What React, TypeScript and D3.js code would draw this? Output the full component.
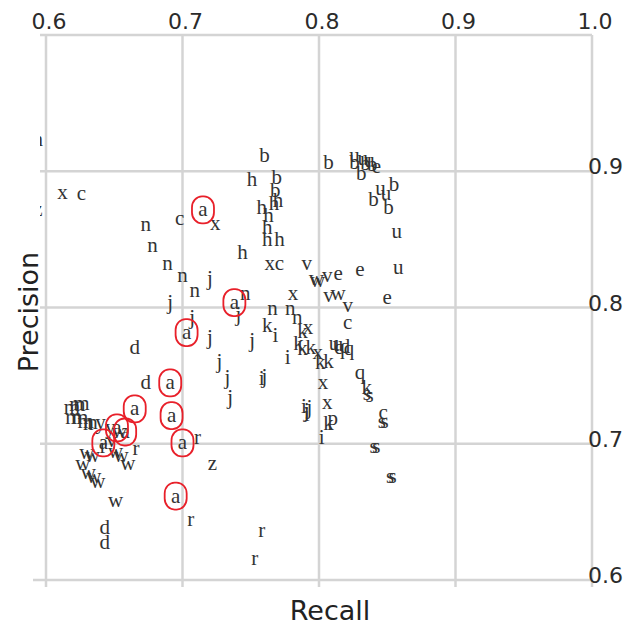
import React from "react";
import * as d3 from "d3";

// ---- data ----
const labels: string[] = [
  "n","z","x","c","b","h","b","b","h","h","h","h","h","h","h","h","x","c","v","x","c","a","b",
  "u","b","u","b","u","b","b","e",
  "u","b","b","u","b","u","u",
  "w","w","v","e","e","x","v","w","v","e",
  "n","n","n","k","i","c","x","k","k","k","k","x","k","k","i","u","q","d","q","u",
  "j","i","x","q","k","s","s","x","i","j","i","j","p","k","i","c","s","s","s","s","s","s",
  "n","n","n","n","j","n","j","a","n","j","j","a","j","j","d","j","j","j","d","a","a","a","a","r","z","a","r","r","r","d","d","w",
  "m","m","m","m","m","m","n","n","y","y","w","a","a","a","r","r","w","w","w","w","w","w","w","w","w","v"
];
const recallValues: number[] = [
  0.594,0.594,0.612,0.626,0.760,0.751,0.769,0.768,0.770,0.767,0.758,0.763,0.762,0.762,0.771,0.744,0.764,0.771,0.791,0.724,0.698,0.715,0.807,
  0.826,0.826,0.832,0.834,0.837,0.839,0.831,0.842,
  0.845,0.855,0.840,0.849,0.851,0.857,0.858,
  0.798,0.799,0.806,0.814,0.830,0.781,0.807,0.814,0.821,0.850,
  0.766,0.779,0.784,0.762,0.768,0.821,0.792,0.788,0.785,0.788,0.794,0.799,0.801,0.807,0.777,0.811,0.815,0.819,0.822,0.814,
  0.760,0.758,0.803,0.830,0.835,0.835,0.837,0.806,0.789,0.791,0.791,0.793,0.810,0.807,0.802,0.847,0.846,0.848,0.840,0.842,0.852,0.854,
  0.673,0.678,0.689,0.700,0.720,0.709,0.691,0.738,0.746,0.741,0.707,0.703,0.720,0.751,0.665,0.727,0.733,0.735,0.673,0.691,0.665,0.692,0.700,0.711,0.722,0.695,0.706,0.758,0.753,0.643,0.643,0.651,
  0.619,0.623,0.626,0.620,0.625,0.629,0.631,0.634,0.640,0.647,0.654,0.652,0.658,0.642,0.642,0.666,0.630,0.634,0.651,0.655,0.660,0.627,0.631,0.635,0.638,0.648
];
const precisionValues: number[] = [
  0.924,0.872,0.885,0.884,0.912,0.894,0.896,0.886,0.879,0.877,0.874,0.868,0.859,0.850,0.850,0.841,0.833,0.833,0.833,0.862,0.866,0.872,0.907,
  0.912,0.907,0.910,0.906,0.908,0.905,0.899,0.904,
  0.888,0.891,0.880,0.884,0.874,0.856,0.830,
  0.822,0.820,0.824,0.825,0.828,0.811,0.809,0.811,0.802,0.808,
  0.800,0.800,0.793,0.787,0.780,0.789,0.786,0.783,0.774,0.770,0.771,0.767,0.760,0.761,0.764,0.774,0.771,0.772,0.770,0.773,
  0.750,0.748,0.745,0.753,0.742,0.737,0.736,0.731,0.728,0.725,0.722,0.727,0.719,0.715,0.705,0.723,0.717,0.717,0.698,0.698,0.676,0.676,
  0.861,0.846,0.833,0.824,0.822,0.813,0.804,0.804,0.811,0.795,0.793,0.782,0.778,0.776,0.771,0.761,0.749,0.734,0.745,0.745,0.726,0.721,0.701,0.705,0.686,0.662,0.645,0.637,0.616,0.639,0.628,0.659,
  0.727,0.729,0.730,0.720,0.720,0.717,0.715,0.716,0.716,0.712,0.709,0.712,0.709,0.701,0.698,0.697,0.694,0.692,0.695,0.692,0.686,0.686,0.679,0.676,0.673,0.703
];
const highlightLabel = "a";
const xTicks: number[] = [0.6, 0.7, 0.8, 0.9, 1.0];
const yTicks: number[] = [0.6, 0.7, 0.8, 0.9, 1.0];
const xTitle = "Recall";
const yTitle = "Precision";

const W = 639;
const H = 627;
const left = 46, right = 592, top = 35, bottom = 580;

export default function App() {
  const x = d3.scaleLinear().domain([0.6, 1.0]).range([left, right]);
  const y = d3.scaleLinear().domain([0.6, 1.0]).range([bottom, top]);
  const fmt = d3.format(".1f");
  const gridColor = "#d4d4d4";
  const tickFont = "'DejaVu Sans', sans-serif";
  const points = labels.map((l, i) => ({ l, r: recallValues[i], p: precisionValues[i] }));

  return (
    <svg width={W} height={H} style={{ position: "absolute", left: 0, top: 0, background: "#fff" }}>
      <defs>
        <clipPath id="plotclip">
          <rect x={40} y={28} width={560} height={565} />
        </clipPath>
      </defs>
      {/* grid */}
      {xTicks.map((t) => (
        <line key={"vx" + t} x1={x(t)} x2={x(t)} y1={top} y2={bottom + 7} stroke={gridColor} strokeWidth={2.5} />
      ))}
      {yTicks.map((t) => (
        <line key={"hy" + t} x1={t === 0.6 ? 33 : 40} x2={right} y1={y(t)} y2={y(t)} stroke={gridColor} strokeWidth={2.5} />
      ))}
      {/* top tick labels */}
      {xTicks.map((t) => (
        <text key={"tx" + t} x={x(t) + 3} y={29} textAnchor="middle" fontFamily={tickFont} fontSize={22} fill="#2b2b2b">
          {fmt(t)}
        </text>
      ))}
      {/* right tick labels */}
      {yTicks.filter((t) => t < 1.0).map((t) => (
        <text key={"ty" + t} x={588} y={y(t) + 3} textAnchor="start" fontFamily={tickFont} fontSize={22} fill="#2b2b2b">
          {fmt(t)}
        </text>
      ))}
      {/* titles */}
      <text x={330} y={620} textAnchor="middle" fontFamily={tickFont} fontSize={27} fill="#222">
        {xTitle}
      </text>
      <text transform={`translate(38,${312}) rotate(-90)`} textAnchor="middle" fontFamily={tickFont} fontSize={27} fill="#222">
        {yTitle}
      </text>
      {/* marks */}
      <g clipPath="url(#plotclip)">
        {points.map((d, i) => (
          <text
            key={"p" + i}
            x={x(d.r)}
            y={y(d.p)}
            textAnchor="middle"
            dominantBaseline="central"
            fontFamily="'Liberation Serif', 'Times New Roman', serif"
            fontSize={21}
            fill="#333"
          >
            {d.l}
          </text>
        ))}
        {points.filter((d) => d.l === highlightLabel).map((d, i) => (
          <rect
            key={"c" + i}
            x={x(d.r) - 11}
            y={y(d.p) - 13}
            width={22}
            height={27}
            rx={10}
            ry={11}
            fill="none"
            stroke="#e8202a"
            strokeWidth={1.8}
          />
        ))}
      </g>
    </svg>
  );
}
